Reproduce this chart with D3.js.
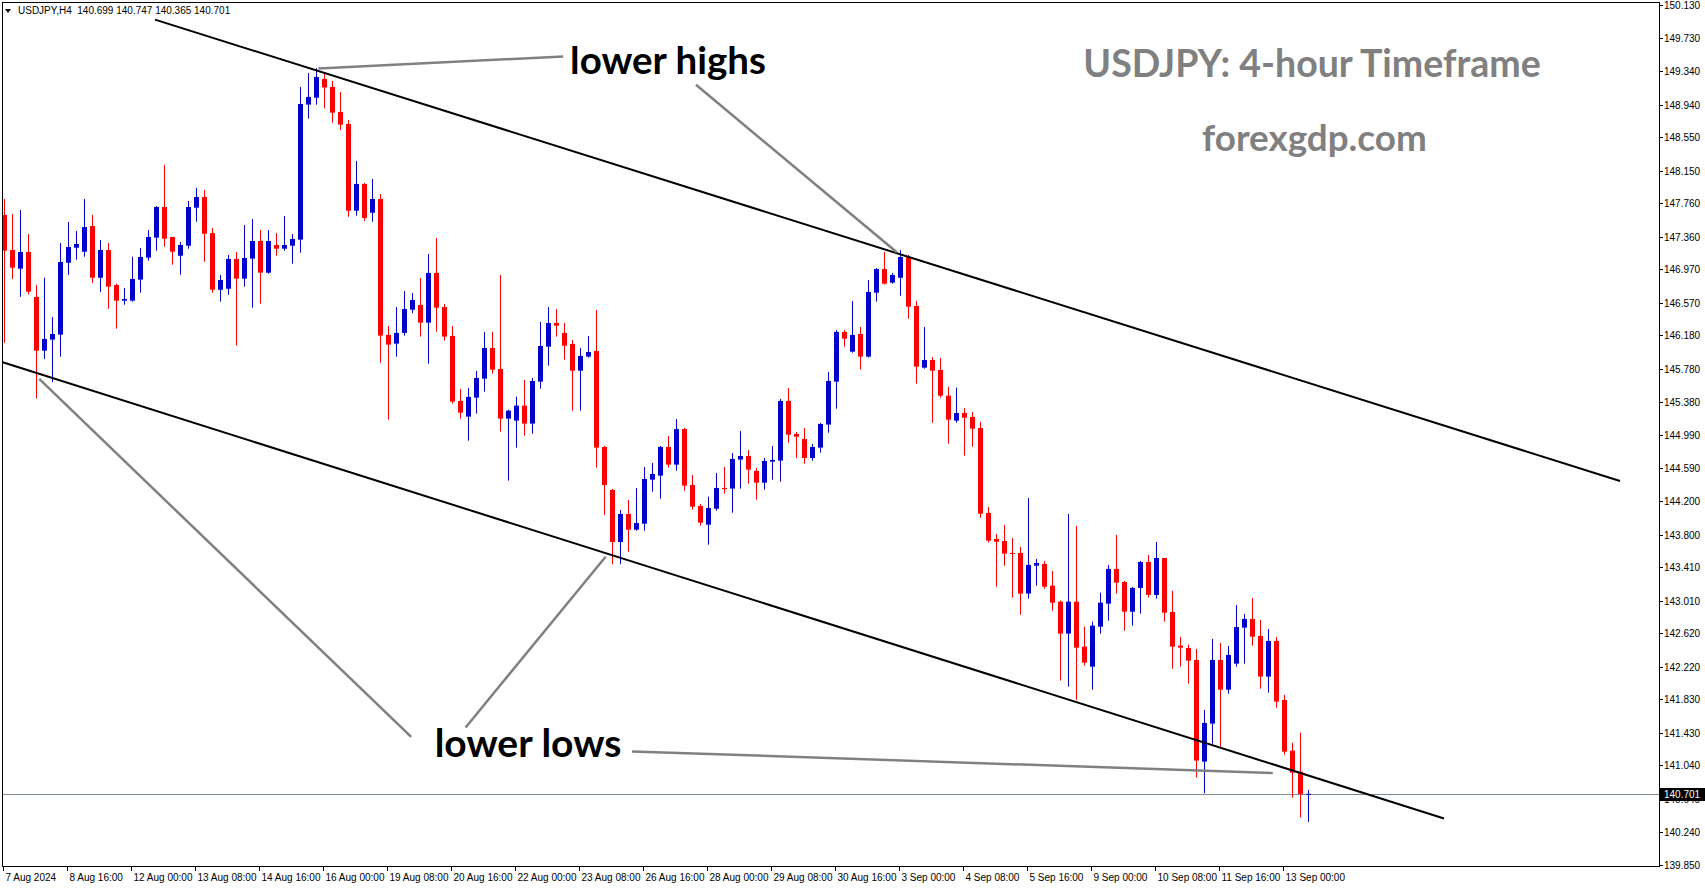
<!DOCTYPE html>
<html>
<head>
<meta charset="utf-8">
<script src="https://cdn.jsdelivr.net/npm/d3@7/dist/d3.min.js"></script>
<style>
body{margin:0;background:#fff;}
svg{display:block;}
</style>
</head>
<body>
<script>
// USDJPY H4 candles, 7 Aug 2024 08:00 .. 13 Sep 2024 12:00
var opens = [147.620,147.201,146.978,147.177,146.640,145.998,146.130,146.190,147.049,147.229,
147.181,147.488,146.870,147.201,146.783,146.596,146.596,146.847,147.110,147.349,
147.715,147.357,147.133,147.253,147.707,147.835,147.404,146.726,146.738,147.094,
146.859,147.098,147.309,146.930,147.261,147.217,147.253,147.325,148.939,149.022,
149.246,149.150,148.851,148.708,147.671,147.991,147.647,147.811,146.186,146.082,
146.210,146.488,146.544,146.333,146.927,146.520,146.174,145.397,145.209,145.437,
145.664,146.030,145.779,145.186,145.162,145.341,145.126,145.628,146.046,146.329,
146.210,146.078,145.759,145.927,145.994,144.847,144.333,143.711,144.046,143.858,
143.930,144.456,144.504,144.847,144.636,145.061,144.393,144.141,143.918,144.109,
144.357,144.349,144.696,144.739,144.560,144.420,144.672,144.684,145.397,145.002,
144.942,144.715,144.839,145.114,145.628,146.222,145.986,146.198,145.927,146.691,
146.974,146.811,146.870,147.118,146.532,145.795,145.887,145.767,145.460,145.162,
145.253,145.205,145.074,144.058,143.747,143.723,143.580,143.580,143.094,143.428,
143.448,143.189,142.998,142.616,142.998,142.460,142.221,142.699,142.974,143.389,
143.233,142.878,143.162,143.472,143.078,143.520,142.875,142.472,142.444,142.301,
141.086,141.540,142.301,141.946,142.257,142.687,142.791,142.588,142.102,142.528,
141.823,141.217,140.966,140.699];
var highs = [147.811,147.632,147.679,147.393,146.783,146.870,146.401,147.285,147.536,147.428,
147.811,147.620,147.321,147.285,146.799,146.747,147.121,147.225,147.440,147.727,
148.218,147.357,147.297,147.787,147.943,147.919,147.464,146.903,147.142,147.177,
147.500,147.572,147.440,147.440,147.404,147.608,147.393,149.150,149.317,149.374,
149.317,149.222,149.090,148.756,148.266,148.003,148.051,147.871,146.293,146.520,
146.711,146.688,146.867,147.154,147.345,146.556,146.293,145.540,145.552,145.756,
146.222,146.222,146.903,145.293,145.449,145.648,145.672,146.341,146.520,146.496,
146.329,146.126,146.030,146.174,146.484,144.859,144.345,144.093,144.213,144.357,
144.608,144.656,144.859,144.978,145.181,145.073,144.512,144.165,144.253,144.536,
144.608,144.775,145.038,144.811,144.596,144.716,144.859,145.421,145.552,145.026,
145.073,144.883,145.134,145.744,146.245,146.245,146.592,146.281,146.843,146.986,
147.177,146.927,147.201,147.142,146.592,146.281,145.923,145.911,145.568,145.556,
145.313,145.265,145.146,144.130,143.807,143.915,143.759,143.651,144.237,143.508,
143.484,143.365,143.010,144.046,143.903,142.699,142.759,143.106,143.437,143.795,
143.245,143.174,143.484,143.556,143.711,143.520,143.126,142.576,142.484,142.432,
141.703,142.552,142.504,142.468,142.958,142.850,143.042,142.779,142.671,142.576,
141.883,141.312,141.432,140.747];
var lows = [146.090,146.855,146.642,146.672,145.428,145.899,145.624,145.927,146.903,147.086,
147.121,146.807,146.699,146.500,146.261,146.548,146.584,146.691,147.074,147.193,
147.241,147.026,146.906,147.217,147.539,147.061,146.690,146.584,146.667,146.058,
146.763,146.512,146.560,146.918,147.133,147.193,147.038,147.169,148.772,148.939,
148.893,148.724,148.636,147.599,147.611,147.547,147.539,145.855,145.174,145.927,
146.178,146.445,146.166,145.843,146.225,146.118,145.365,145.186,144.922,145.246,
145.508,145.723,145.030,144.445,144.839,144.982,145.006,145.544,145.819,146.166,
145.891,145.281,145.281,145.915,144.600,144.034,143.444,143.444,143.595,143.846,
143.846,144.313,144.229,144.600,144.564,144.325,144.097,143.906,143.679,144.085,
144.289,144.062,144.349,144.409,144.217,144.337,144.456,144.432,144.898,144.715,
144.647,144.683,144.779,145.018,145.305,146.046,145.974,145.771,145.915,146.584,
146.790,146.800,146.655,146.381,145.604,145.783,145.137,145.436,144.886,145.138,
144.743,144.851,144.001,143.703,143.177,143.428,143.046,142.843,143.034,143.189,
143.153,142.890,142.054,141.982,141.823,142.233,141.946,142.615,142.771,143.094,
142.651,142.711,142.855,143.046,143.034,142.759,142.197,142.221,142.018,140.894,
140.708,141.300,141.265,141.898,142.221,142.257,142.472,141.958,141.910,141.731,
141.169,140.655,140.416,140.365];
var closes = [147.193,146.990,147.177,146.703,145.998,146.138,146.198,147.058,147.237,147.273,
147.476,146.870,147.201,146.763,146.596,146.616,146.855,147.118,147.357,147.715,
147.337,147.181,147.261,147.715,147.835,147.396,146.726,146.843,147.094,146.859,
147.106,147.309,146.930,147.309,147.217,147.261,147.333,148.947,149.031,149.270,
149.144,148.843,148.700,147.671,147.991,147.583,147.811,146.178,146.070,146.210,
146.496,146.604,146.333,146.927,146.512,146.166,145.389,145.257,145.445,145.672,
146.030,145.771,145.186,145.281,145.341,145.126,145.636,146.054,146.329,146.297,
146.058,145.759,145.935,145.982,144.839,144.393,143.711,144.046,143.858,143.938,
144.464,144.524,144.847,144.636,145.061,144.385,144.133,143.942,144.117,144.357,
144.345,144.704,144.739,144.576,144.420,144.680,144.692,145.397,144.994,144.970,
144.715,144.847,145.122,145.636,146.222,146.142,146.186,145.927,146.700,146.974,
146.799,146.903,147.118,146.524,145.807,145.887,145.759,145.460,145.173,145.253,
145.197,145.066,144.049,143.727,143.715,143.572,143.568,143.094,143.437,143.460,
143.177,142.986,142.616,142.998,142.448,142.269,142.711,142.986,143.389,143.225,
142.878,143.162,143.472,143.078,143.520,142.866,142.460,142.448,142.293,141.098,
141.548,142.301,141.946,142.361,142.695,142.791,142.579,142.102,142.528,141.803,
141.205,140.954,140.699,140.701];

var timeLabels = ["7 Aug 2024","8 Aug 16:00","12 Aug 00:00","13 Aug 08:00","14 Aug 16:00","16 Aug 00:00",
"19 Aug 08:00","20 Aug 16:00","22 Aug 00:00","23 Aug 08:00","26 Aug 16:00","28 Aug 00:00","29 Aug 08:00",
"30 Aug 16:00","3 Sep 00:00","4 Sep 08:00","5 Sep 16:00","9 Sep 00:00","10 Sep 08:00","11 Sep 16:00","13 Sep 00:00"];
var timeLabelBars = [0,8,16,24,32,40,48,56,64,72,80,88,96,104,112,120,128,136,144,152,160];

var priceTicks = [150.130,149.730,149.340,148.940,148.550,148.150,147.760,147.360,146.970,146.570,
146.180,145.780,145.380,144.990,144.590,144.200,143.800,143.410,143.010,142.620,142.220,141.830,
141.430,141.040,140.640,140.240,139.850];

var lastPrice = 140.701;
var headerText = "USDJPY,H4  140.699 140.747 140.365 140.701";

// trend channel, [bar, price] end points
var channelUpper = [[18.875,149.955],[202,144.441]];
var channelLower = [[-0.16,145.859],[180,140.406]];
// grey pointer lines, [bar, price] end points
var pointers = [
  [[39.3,149.371],[69.9,149.515]],
  [[86.5,149.176],[111.6,147.174]],
  [[50.9,141.381],[4.4,145.660]],
  [[57.7,141.494],[75.2,143.535]],
  [[78.5,141.208],[158.6,140.950]]
];
var notes = [
  {text:"lower highs", bar:83.0, price:149.31, color:"#000", size:38.5},
  {text:"lower lows", bar:65.5, price:141.14, color:"#000", size:39},
  {text:"USDJPY: 4-hour Timeframe", bar:163.5, price:149.27, color:"#808080", size:37.5},
  {text:"forexgdp.com", bar:163.8, price:148.38, color:"#808080", size:36.8}
];

var W = 1705, H = 888;
var plot = {left:2, top:2, right:1659, bottom:866};

var svg = d3.select("body").append("svg").attr("width",W).attr("height",H);

var x = d3.scaleLinear().domain([0,207]).range([4,1660]);
var y = d3.scaleLinear().domain([139.85,150.13]).range([865,5]);

svg.append("defs").append("clipPath").attr("id","plotclip")
  .append("rect").attr("x",plot.left).attr("y",plot.top)
  .attr("width",plot.right-plot.left).attr("height",plot.bottom-plot.top);

var g = svg.append("g").attr("clip-path","url(#plotclip)");

//current price line
g.append("line")
  .attr("x1",plot.left).attr("x2",plot.right)
  .attr("y1",Math.round(y(lastPrice))+0.5).attr("y2",Math.round(y(lastPrice))+0.5)
  .attr("stroke","#7d8b99").attr("stroke-width",1);

//candles
var bars = d3.range(opens.length);
var cg = g.selectAll("g.candle").data(bars).enter().append("g").attr("class","candle");
function colorOf(i){ return closes[i] >= opens[i] ? "#0000cc" : "#ff0000"; }
cg.append("line")
  .attr("x1",function(i){return Math.round(x(i))+0.5;})
  .attr("x2",function(i){return Math.round(x(i))+0.5;})
  .attr("y1",function(i){return y(highs[i]);})
  .attr("y2",function(i){return y(lows[i]);})
  .attr("stroke",colorOf).attr("stroke-width",1);
cg.append("rect")
  .attr("x",function(i){return Math.round(x(i))-2;})
  .attr("width",5)
  .attr("y",function(i){return y(Math.max(opens[i],closes[i]));})
  .attr("height",function(i){return Math.max(1, Math.abs(y(opens[i])-y(closes[i])));})
  .attr("fill",colorOf);

//channel lines
[channelUpper, channelLower].forEach(function(c){
  g.append("line")
    .attr("x1",x(c[0][0])).attr("y1",y(c[0][1]))
    .attr("x2",x(c[1][0])).attr("y2",y(c[1][1]))
    .attr("stroke","#000").attr("stroke-width",2);
});

//pointer lines
g.selectAll("line.pointer").data(pointers).enter().append("line")
  .attr("class","pointer")
  .attr("x1",function(d){return x(d[0][0]);}).attr("y1",function(d){return y(d[0][1]);})
  .attr("x2",function(d){return x(d[1][0]);}).attr("y2",function(d){return y(d[1][1]);})
  .attr("stroke","#808080").attr("stroke-width",2.5);

//text notes
g.selectAll("text.note").data(notes).enter().append("text")
  .attr("class","note")
  .attr("x",function(d){return x(d.bar);})
  .attr("y",function(d){return y(d.price);})
  .attr("text-anchor","middle")
  .attr("font-family","Lato, 'Open Sans', sans-serif")
  .attr("font-weight",700)
  .attr("font-size",function(d){return d.size;})
  .attr("fill",function(d){return d.color;})
  .text(function(d){return d.text;});

//frame
svg.append("rect").attr("x",plot.left+0.5).attr("y",plot.top+0.5)
  .attr("width",plot.right-plot.left).attr("height",plot.bottom-plot.top)
  .attr("fill","none").attr("stroke","#000").attr("stroke-width",1);

//price axis
var ya = svg.append("g").attr("font-family","'Liberation Sans', Arial, sans-serif").attr("font-size",10);
priceTicks.forEach(function(v){
  var yy = Math.round(y(v))+0.5;
  ya.append("line").attr("x1",plot.right).attr("x2",plot.right+4).attr("y1",yy).attr("y2",yy).attr("stroke","#000");
  ya.append("text").attr("x",plot.right+5).attr("y",yy+3.5).attr("fill","#000").text(v.toFixed(3));
});
var ly = Math.round(y(lastPrice));
ya.append("rect").attr("x",plot.right+1).attr("y",ly-6).attr("width",45).attr("height",13).attr("fill","#000");
ya.append("text").attr("x",plot.right+5).attr("y",ly+4).attr("fill","#fff").text(lastPrice.toFixed(3));

//time axis
var xa = svg.append("g").attr("font-family","'Liberation Sans', Arial, sans-serif").attr("font-size",10);
timeLabels.forEach(function(t,k){
  var xx = Math.round(x(timeLabelBars[k]))-0.5;
  xa.append("line").attr("x1",xx).attr("x2",xx).attr("y1",plot.bottom).attr("y2",plot.bottom+5).attr("stroke","#000");
  xa.append("text").attr("x",xx+2).attr("y",plot.bottom+15).attr("fill","#000").text(t);
});

//header
var hd = svg.append("g");
hd.append("path").attr("d","M5,9 L11,9 L8,13 Z").attr("fill","#000");
hd.append("text").attr("x",18).attr("y",14)
  .attr("font-family","'Liberation Sans', Arial, sans-serif").attr("font-size",10)
  .attr("fill","#000").attr("xml:space","preserve").style("white-space","pre")
  .text(headerText);
</script>
</body>
</html>
